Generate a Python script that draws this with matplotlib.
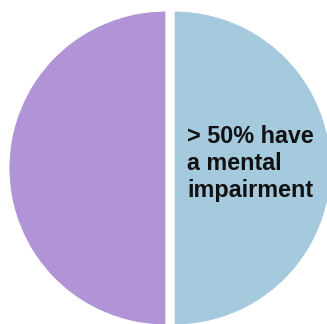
import matplotlib
matplotlib.use("Agg")
import matplotlib.pyplot as plt

# two halves of the population
labels = ["other", "mental impairment"]
shares = [50, 50]
colors = ["#B194D6", "#A5C9DD"]
note = "> 50% have\na mental\nimpairment"

fig = plt.figure(figsize=(3.27, 3.24), dpi=100)
ax = fig.add_axes([0, 0, 1, 1])

ax.pie(shares, colors=colors, startangle=90, counterclock=True,
       explode=[0.026, 0.026],
       wedgeprops=dict(edgecolor="white", linewidth=0.8))

ax.text(0.108, 0.03, note, fontsize=16.8, fontweight="bold",
        family="Liberation Sans", color="#111111",
        ha="left", va="center", linespacing=1.22)

ax.set_xlim(-170 / 157, 157 / 157)
ax.set_ylim(-156 / 157, 168 / 157)
ax.set_aspect("equal")
ax.axis("off")

fig.savefig("out.png", dpi=100, facecolor="white")
